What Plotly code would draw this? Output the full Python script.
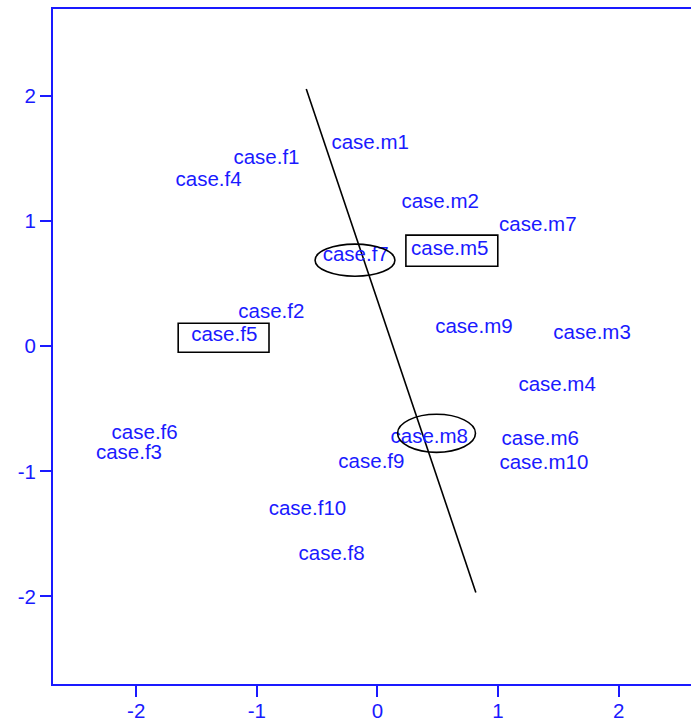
import plotly.graph_objects as go

# ---- data ----
labels = ["case.m1", "case.f1", "case.f4", "case.m2", "case.m7", "case.f7", "case.m5",
          "case.f2", "case.f5", "case.m9", "case.m3", "case.m4", "case.f6", "case.f3",
          "case.m8", "case.m6", "case.f9", "case.m10", "case.f10", "case.f8"]
x_vals = [-0.06, -0.92, -1.40, 0.52, 1.33, -0.18, 0.60,
          -0.88, -1.27, 0.80, 1.78, 1.49, -1.93, -2.06,
          0.43, 1.35, -0.05, 1.38, -0.58, -0.38]
y_vals = [1.62, 1.50, 1.32, 1.15, 0.96, 0.72, 0.77,
          0.27, 0.08, 0.15, 0.10, -0.32, -0.70, -0.86,
          -0.73, -0.75, -0.93, -0.94, -1.31, -1.67]

# separating line
line_x = [-0.59, 0.816]
line_y = [2.056, -1.968]

# boxed labels: (x0, x1, y0, y1)
boxes = [(-1.652, -0.899, -0.048, 0.184),
         (0.236, 0.998, 0.640, 0.888)]
# circled labels: (cx, cy, rx, ry)
ellipses = [(-0.186, 0.688, 0.331, 0.128),
            (0.49, -0.696, 0.323, 0.152)]

tick_vals = [-2, -1, 0, 1, 2]
tick_text = ["-2", "-1", "0", "1", "2"]

BLUE = "#1a1aff"
FONT = "Liberation Sans, Arial, Helvetica, sans-serif"

fig = go.Figure()
fig.add_trace(go.Scatter(x=line_x, y=line_y, mode="lines",
                         line=dict(color="black", width=1.6), hoverinfo="skip"))
fig.add_trace(go.Scatter(x=x_vals, y=y_vals, mode="text", text=labels,
                         textposition="middle center",
                         textfont=dict(color=BLUE, size=20.5, family=FONT)))

for (x0, x1, y0, y1) in boxes:
    fig.add_shape(type="rect", x0=x0, x1=x1, y0=y0, y1=y1, xref="x", yref="y",
                  line=dict(color="black", width=1.6))
for (cx, cy, rx, ry) in ellipses:
    fig.add_shape(type="circle", x0=cx - rx, x1=cx + rx, y0=cy - ry, y1=cy + ry,
                  xref="x", yref="y", line=dict(color="black", width=1.6))

axis_common = dict(showgrid=False, zeroline=False, showline=True, linecolor=BLUE,
                   linewidth=2, ticks="outside", ticklen=11, tickwidth=2,
                   tickcolor=BLUE, tickvals=tick_vals, ticktext=tick_text,
                   automargin=False,
                   tickfont=dict(color=BLUE, size=20.5, family=FONT))

fig.update_xaxes(range=[-2.69, 2.6], mirror=True, ticklabelstandoff=-4, **axis_common)
fig.update_yaxes(range=[-2.70, 2.696], mirror=False, ticklabelstandoff=0, **axis_common)

fig.update_layout(width=691, height=722, showlegend=False,
                  margin=dict(l=53, r=0, t=9, b=38),
                  plot_bgcolor="white", paper_bgcolor="white")

fig.write_html("out.html", config={"displayModeBar": False},
               post_script="document.body.style.margin='0';document.body.style.overflow='hidden';")
